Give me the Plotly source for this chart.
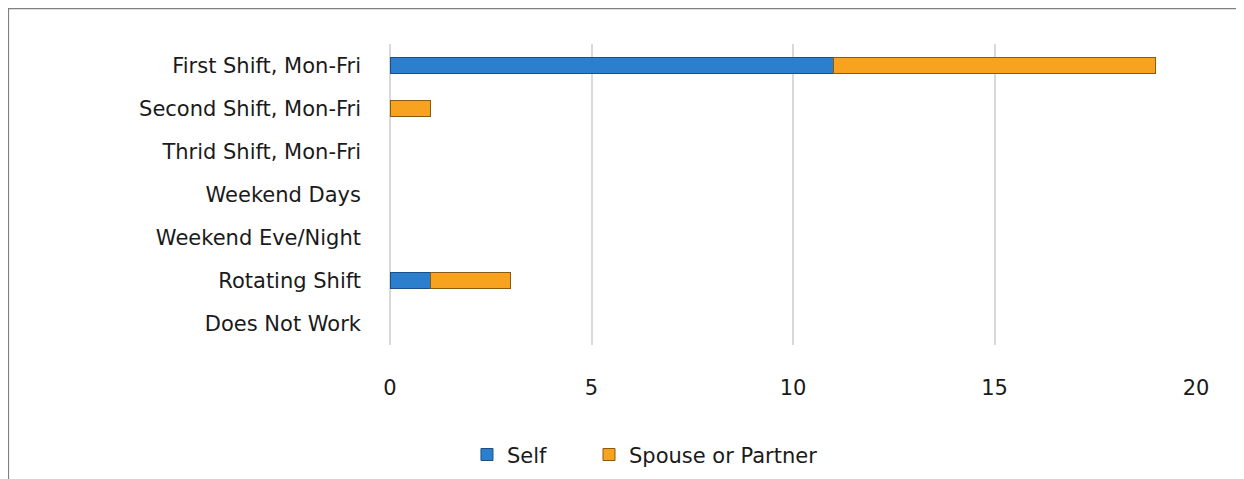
import plotly.graph_objects as go

categories = ["First Shift, Mon-Fri", "Second Shift, Mon-Fri", "Thrid Shift, Mon-Fri",
              "Weekend Days", "Weekend Eve/Night", "Rotating Shift", "Does Not Work"]
self_vals = [11, 0, 0, 0, 0, 1, 0]
spouse_vals = [8, 1, 0, 0, 0, 2, 0]
x_ticks = [0, 5, 10, 15, 20]

FONT = "DejaVu Sans"


def nz(vals):
    return [v if v else None for v in vals]


fig = go.Figure()
fig.add_trace(go.Bar(y=categories, x=nz(self_vals), orientation="h", name="Self",
                     legend="legend",
                     marker=dict(color="#2C7FCD", line=dict(color="#1B4F85", width=1))))
fig.add_trace(go.Bar(y=categories, x=nz(spouse_vals), orientation="h", name="Spouse or Partner",
                     legend="legend2",
                     marker=dict(color="#F8A320", line=dict(color="#8A5A10", width=1))))

fig.update_layout(
    barmode="stack",
    bargap=0.62,
    width=1244, height=479,
    margin=dict(l=382, r=56, t=36, b=142),
    paper_bgcolor="white", plot_bgcolor="white",
    font=dict(family=FONT, size=21, color="#1a1a1a"),
    showlegend=True,
    legend=dict(orientation="h", x=0.0955, xanchor="left", y=-0.365, yanchor="middle",
                font=dict(size=21)),
    legend2=dict(orientation="h", x=0.2469, xanchor="left", y=-0.365, yanchor="middle",
                 font=dict(size=21)),
    xaxis=dict(range=[0, 20], tickvals=x_ticks, showgrid=True, gridcolor="#D9D9D9",
               gridwidth=1.5, zeroline=True, zerolinecolor="#D9D9D9", zerolinewidth=1.5,
               showline=False, ticks="", ticklabelstandoff=28),
    yaxis=dict(autorange="reversed", showgrid=False, showline=False, ticks="",
               ticklabelstandoff=28),
    shapes=[dict(type="rect", xref="paper", yref="paper",
                 x0=-0.4735, x1=1.08, y0=-0.47, y1=1.1180,
                 line=dict(color="#808080", width=1.5), fillcolor="rgba(0,0,0,0)", layer="below")],
)

fig.write_html("out.html")
